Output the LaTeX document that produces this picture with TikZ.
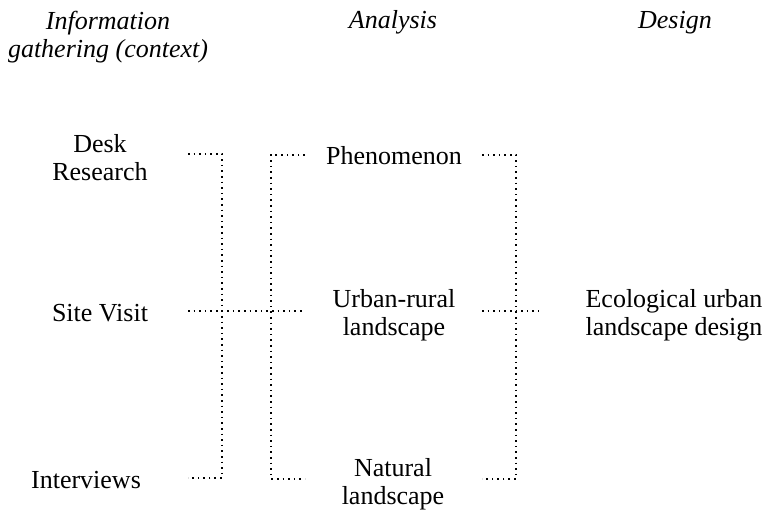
\documentclass[tikz,border=0pt]{standalone}
\usepackage{fontspec}
\setmainfont{Liberation Serif}
\usepackage{tikz}
\usetikzlibrary{positioning,calc}

\begin{document}
\begin{tikzpicture}[x=1pt,y=1pt,
  font=\fontsize{26}{28}\selectfont,
  lbl/.style={align=center, inner sep=0pt, anchor=base},
  hd/.style={lbl, font=\fontsize{26}{28}\selectfont\itshape},
  dots/.style={line width=1.6pt, dash pattern=on 1.6pt off 4pt}]
\useasboundingbox (0,0) rectangle (768,-510);
% headings
\node[hd] (info) at (108,-58) {Information\\gathering (context)};
\node[hd] (ana) at (393,-29) {Analysis};
\node[hd] (des) at (675,-29) {Design};
% information gathering
\node[lbl] (desk) at (100,-181) {Desk\\Research};
\node[lbl] (site) at (100,-322) {Site Visit};
\node[lbl] (intv) at (86,-488) {Interviews};
% analysis
\node[lbl] (phen) at (394,-165) {Phenomenon};
\node[lbl] (urb) at (394,-336) {Urban-rural\\landscape};
\node[lbl] (nat) at (393,-504) {Natural\\landscape};
% design
\node[lbl] (eco) at (674,-336) {Ecological urban\\landscape design};
% line ends
\coordinate (deskR) at (188,-154);
\coordinate (siteR) at (188,-311);
\coordinate (intvR) at (188,-478);
\coordinate (phenL) at (305,-155);
\coordinate (urbL) at (305,-311);
\coordinate (natL) at (305,-479);
\coordinate (phenR) at (482,-155);
\coordinate (urbR) at (482,-311);
\coordinate (natR) at (482,-479);
\coordinate (ecoL) at (539,-311);
% brackets
\draw[dots] (deskR) -- ++(34,0) |- (intvR);
\draw[dots] (siteR) -- (urbL);
\draw[dots] (phenL) -- ++(-34,0) |- (natL);
\draw[dots] (phenR) -- ++(34,0) |- (natR);
\draw[dots] (urbR) -- (ecoL);
\end{tikzpicture}
\end{document}
